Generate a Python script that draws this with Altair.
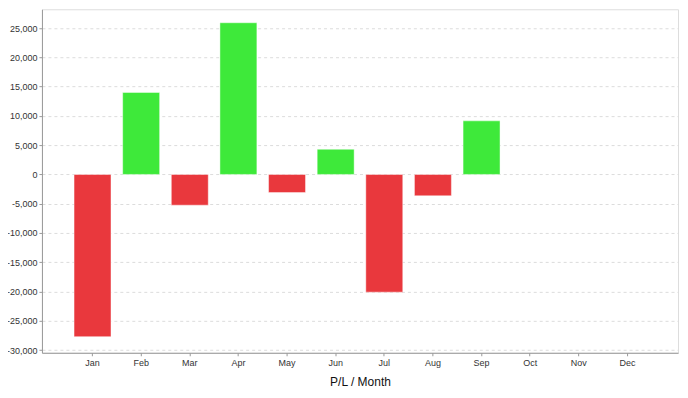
import altair as alt
import pandas as pd

months = ["Jan", "Feb", "Mar", "Apr", "May", "Jun", "Jul", "Aug", "Sep", "Oct", "Nov", "Dec"]
pl_values = [-27700, 14000, -5250, 25900, -3100, 4300, -20100, -3650, 9150, None, None, None]
y_ticks = [-30000, -25000, -20000, -15000, -10000, -5000, 0, 5000, 10000, 15000, 20000, 25000]

df = pd.DataFrame({"month": months, "pl": pl_values})
df["kind"] = ["gain" if (v is not None and v >= 0) else "loss" for v in pl_values]
df = df.dropna(subset=["pl"])

font = "Liberation Sans"

chart = (
    alt.Chart(df)
    .mark_bar(stroke="white", strokeOpacity=0.45, strokeWidth=1)
    .encode(
        x=alt.X(
            "month:N",
            scale=alt.Scale(domain=months, paddingInner=0.24, paddingOuter=0.66),
            axis=alt.Axis(
                title="P/L / Month",
                labelAngle=0,
                labelFontSize=9,
                labelColor="#333",
                labelFont=font,
                labelPadding=3,
                tickSize=3,
                tickColor="#999",
                domainColor="#999",
                titleFont=font,
                titleFontSize=12,
                titleFontWeight="normal",
                titleColor="#111",
                titlePadding=9,
                grid=False,
            ),
        ),
        y=alt.Y(
            "pl:Q",
            scale=alt.Scale(domain=[-30450, 28200], nice=False, zero=False),
            axis=alt.Axis(
                title=None,
                values=y_ticks,
                labelExpr="replace(format(datum.value, ',d'), '\u2212', '-')",
                labelFontSize=9,
                labelColor="#333",
                labelFont=font,
                labelPadding=2,
                tickSize=3,
                tickColor="#999",
                domainColor="#999",
                grid=True,
                gridColor="#dcdcdc",
                gridDash=[3, 3],
                gridWidth=1,
            ),
        ),
        color=alt.Color(
            "kind:N",
            scale=alt.Scale(domain=["loss", "gain"], range=["#E9383D", "#3EE93A"]),
            legend=None,
        ),
    )
    .properties(
        width=637,
        height=344,
        padding={"left": 34, "top": 1, "right": 2, "bottom": 36},
        autosize="none",
    )
    .configure_view(stroke="#bbbbbb", strokeWidth=1)
    .configure(background="white")
)

chart.save("out.html", embed_options={"renderer": "svg", "actions": False})
